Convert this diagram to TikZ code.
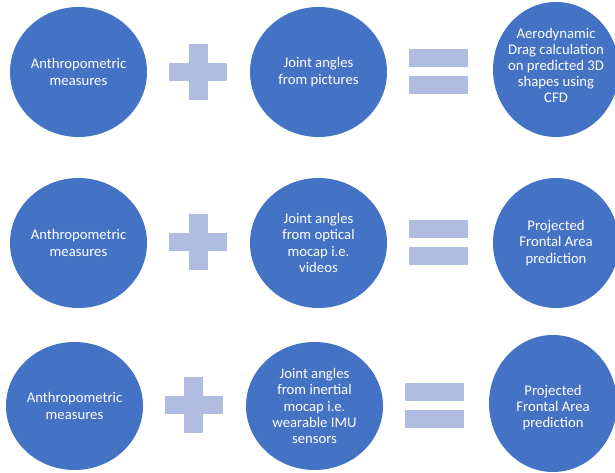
\documentclass[tikz,border=0pt]{standalone}
\usepackage{fontspec}
\setmainfont{Carlito}
\usetikzlibrary{shapes.geometric}
\definecolor{discblue}{HTML}{4472C4}
\definecolor{signblue}{HTML}{B0BDE0}
\begin{document}
\begin{tikzpicture}[x=1pt,y=1pt,
  disc/.style={ellipse, fill=discblue, text=white, inner sep=0pt, align=center,
    font=\fontsize{14.7}{16.2}\selectfont},
  disctext/.style={text=white, inner sep=0pt, align=center,
    font=\fontsize{14.7}{16.2}\selectfont},
  plussign/.pic={
    \fill[signblue] (-9.5,-28) rectangle (9.5,28);
    \fill[signblue] (-29,-9) rectangle (29,9);},
  equalsign/.pic={
    \fill[signblue] (-29.5,4.5) rectangle (29.5,22.5);
    \fill[signblue] (-29.5,-4.5) rectangle (29.5,-22.5);}]
\useasboundingbox (0,0) rectangle (615,473);
\fill[white] (0,0) rectangle (615,473);
% row 1
\node[disc, minimum width=137pt, minimum height=130pt] (a1) at (78.5,401) {Anthropometric\\measures};
\node[disc, minimum width=137pt, minimum height=130pt] (b1) at (318.5,401) {Joint angles\\from pictures};
\node[disc, minimum width=126pt, minimum height=135pt] (c1) at (556,403.5) {};
\node[disctext] (c1t) at ([yshift=4pt]c1.center) {Aerodynamic\\Drag calculation\\on predicted 3D\\shapes using\\CFD};
\pic at (198,401) {plussign};
\pic at (438.5,401) {equalsign};
% row 2
\node[disc, minimum width=137pt, minimum height=130pt] (a2) at (78.5,230) {Anthropometric\\measures};
\node[disc, minimum width=137pt, minimum height=130pt] (b2) at (318.5,230) {Joint angles\\from optical\\mocap i.e.\\videos};
\node[disc, minimum width=126pt, minimum height=130pt] (c2) at (556,230) {Projected\\Frontal Area\\prediction};
\pic at (198,230.5) {plussign};
\pic at (438.5,230.5) {equalsign};
% row 3
\node[disc, minimum width=137pt, minimum height=128pt] (a3) at (74.5,67) {Anthropometric\\measures};
\node[disc, minimum width=137pt, minimum height=128pt] (b3) at (314.5,67) {Joint angles\\from inertial\\mocap i.e.\\wearable IMU\\sensors};
\node[disc, minimum width=128pt, minimum height=137pt] (c3) at (553,69.5) {};
\node[disctext] (c3t) at ([yshift=-4pt]c3.center) {Projected\\Frontal Area\\prediction};
\pic at (193.5,67.5) {plussign};
\pic at (434,67) {equalsign};
\end{tikzpicture}
\end{document}
